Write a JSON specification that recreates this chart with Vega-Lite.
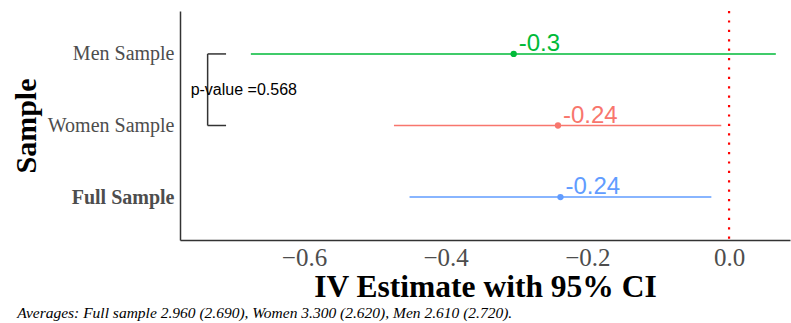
{
  "$schema": "https://vega.github.io/schema/vega-lite/v6.json",
  "width": 610,
  "height": 229,
  "autosize": {"type": "none"},
  "padding": {"left": 180, "top": 11, "right": 1, "bottom": 83},
  "background": "white",
  "config": {"view": {"stroke": null}},
  "title": {
    "text": "Averages: Full sample 2.960 (2.690), Women 3.300 (2.620), Men 2.610 (2.720).",
    "orient": "bottom",
    "anchor": "start",
    "frame": "bounds",
    "font": "Liberation Serif",
    "fontStyle": "italic",
    "fontWeight": "normal",
    "fontSize": 15.5,
    "color": "black",
    "offset": 3,
    "dx": 6
  },
  "datasets": {
    "est": [
      {"sample": "Full Sample", "pos": 1, "est": -0.238, "lo": -0.451, "hi": -0.025, "label": "-0.24"},
      {"sample": "Women Sample", "pos": 2, "est": -0.2415, "lo": -0.473, "hi": -0.011, "label": "-0.24"},
      {"sample": "Men Sample", "pos": 3, "est": -0.304, "lo": -0.675, "hi": 0.066, "label": "-0.3"}
    ],
    "bracket": [
      {"x": -0.736, "x2": -0.736, "y": 2, "y2": 3},
      {"x": -0.736, "x2": -0.71, "y": 3, "y2": 3},
      {"x": -0.736, "x2": -0.71, "y": 2, "y2": 2}
    ]
  },
  "layer": [
    {
      "data": {"name": "est"},
      "mark": {"type": "rule", "strokeWidth": 1.5},
      "encoding": {
        "x": {
          "field": "lo", "type": "quantitative",
          "scale": {"domain": [-0.775, 0.086], "nice": false, "zero": false},
          "axis": {
            "values": [-0.6, -0.4, -0.2, 0.0],
            "format": ".1f",
            "title": "IV Estimate with 95% CI",
            "grid": false,
            "ticks": false,
            "domainColor": "#333333",
            "domainWidth": 1.5,
            "labelFont": "Liberation Serif",
            "labelFontSize": 25,
            "labelColor": "#4D4D4D",
            "labelPadding": 5,
            "titleFont": "Liberation Serif",
            "titleFontSize": 31.5,
            "titleFontWeight": "bold",
            "titleColor": "black",
            "titlePadding": 1
          }
        },
        "x2": {"field": "hi"},
        "y": {
          "field": "pos", "type": "quantitative",
          "scale": {"domain": [0.4, 3.6], "nice": false, "zero": false},
          "axis": {
            "values": [1, 2, 3],
            "labelExpr": "datum.value == 1 ? 'Full Sample' : datum.value == 2 ? 'Women Sample' : 'Men Sample'",
            "title": "Sample",
            "grid": false,
            "ticks": false,
            "domainColor": "#333333",
            "domainWidth": 1.5,
            "labelFont": "Liberation Serif",
            "labelFontSize": 20,
            "labelColor": "#4D4D4D",
            "labelFontWeight": {"condition": {"test": "datum.value == 1", "value": "bold"}, "value": "normal"},
            "labelPadding": 6,
            "titleFont": "Liberation Serif",
            "titleFontSize": 30,
            "titleFontWeight": "bold",
            "titleColor": "black",
            "titlePadding": 6
          }
        },
        "color": {
          "field": "sample", "type": "nominal",
          "scale": {"domain": ["Full Sample", "Women Sample", "Men Sample"], "range": ["#619CFF", "#F8766D", "#00BA38"]},
          "legend": null
        }
      }
    },
    {
      "data": {"name": "est"},
      "mark": {"type": "point", "filled": true, "opacity": 1, "size": 40},
      "encoding": {
        "x": {"field": "est", "type": "quantitative"},
        "y": {"field": "pos", "type": "quantitative"},
        "color": {"field": "sample", "type": "nominal"}
      }
    },
    {
      "data": {"name": "est"},
      "mark": {"type": "text", "align": "left", "baseline": "alphabetic", "dx": 5, "dy": -3, "fontSize": 24, "font": "Liberation Sans"},
      "encoding": {
        "x": {"field": "est", "type": "quantitative"},
        "y": {"field": "pos", "type": "quantitative"},
        "text": {"field": "label"},
        "color": {"field": "sample", "type": "nominal"}
      }
    },
    {
      "data": {"values": [{"x": 0}]},
      "mark": {"type": "rule", "color": "red", "strokeWidth": 2.2, "strokeDash": [2.2, 7.2]},
      "encoding": {"x": {"field": "x", "type": "quantitative"}}
    },
    {
      "data": {"name": "bracket"},
      "mark": {"type": "rule", "color": "#333333", "strokeWidth": 1.5},
      "encoding": {
        "x": {"field": "x", "type": "quantitative"},
        "x2": {"field": "x2"},
        "y": {"field": "y", "type": "quantitative"},
        "y2": {"field": "y2"}
      }
    },
    {
      "data": {"values": [{"x": -0.76, "y": 2.5, "t": "p-value =0.568"}]},
      "mark": {"type": "text", "align": "left", "baseline": "middle", "fontSize": 16, "font": "Liberation Sans", "color": "black"},
      "encoding": {
        "x": {"field": "x", "type": "quantitative"},
        "y": {"field": "y", "type": "quantitative"},
        "text": {"field": "t"}
      }
    }
  ]
}
